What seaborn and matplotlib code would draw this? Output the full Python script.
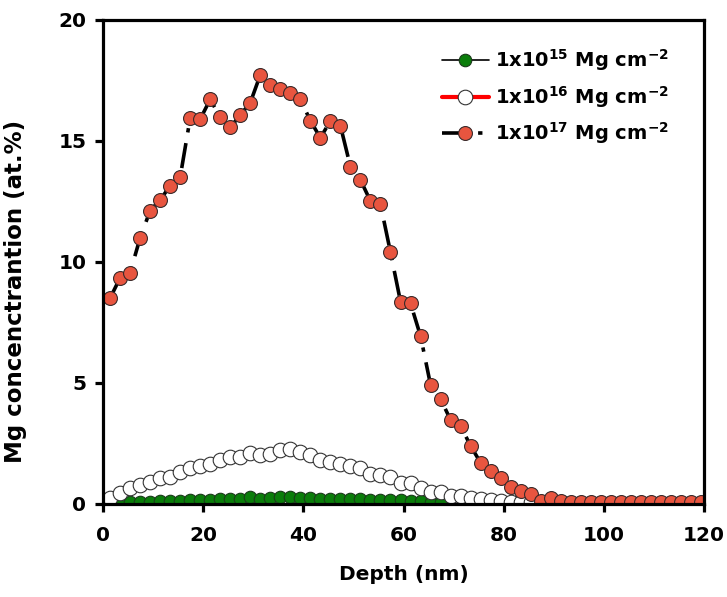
import matplotlib
matplotlib.use('Agg')
import matplotlib.pyplot as plt
import seaborn as sns

# depth (nm) for each measured point
depth = [1.4, 3.4, 5.4, 7.4, 9.4, 11.4, 13.4, 15.4, 17.4, 19.4,
         21.4, 23.4, 25.4, 27.4, 29.4, 31.4, 33.4, 35.4, 37.4, 39.4,
         41.4, 43.4, 45.4, 47.4, 49.4, 51.4, 53.4, 55.4, 57.4, 59.4,
         61.4, 63.4, 65.4, 67.4, 69.4, 71.4, 73.4, 75.4, 77.4, 79.4,
         81.4, 83.4, 85.4, 87.4, 89.4, 91.4, 93.4, 95.4, 97.4, 99.4,
         101.4, 103.4, 105.4, 107.4, 109.4, 111.4, 113.4, 115.4, 117.4, 119.4]

# Mg concentration (at.%) for each fluence
mg_1e17 = [8.5, 9.34, 9.55, 10.99, 12.12, 12.56, 13.15, 13.5, 15.94, 15.9,
           16.72, 15.98, 15.56, 16.07, 16.58, 17.73, 17.31, 17.15, 17.0, 16.72,
           15.84, 15.13, 15.83, 15.63, 13.94, 13.39, 12.52, 12.38, 10.4, 8.36,
           8.29, 6.94, 4.92, 4.34, 3.47, 3.22, 2.4, 1.7, 1.36, 1.07,
           0.71, 0.55, 0.41, 0.14, 0.25, 0.14, 0.1, 0.1, 0.1, 0.1,
           0.1, 0.1, 0.1, 0.1, 0.1, 0.1, 0.1, 0.1, 0.1, 0.1]

mg_1e16 = [0.26, 0.47, 0.65, 0.79, 0.92, 1.06, 1.13, 1.33, 1.5, 1.55,
           1.65, 1.82, 1.93, 1.95, 2.12, 2.02, 2.05, 2.23, 2.28, 2.13,
           2.02, 1.82, 1.73, 1.66, 1.55, 1.5, 1.22, 1.2, 1.1, 0.86,
           0.88, 0.65, 0.49, 0.49, 0.32, 0.32, 0.24, 0.2, 0.17, 0.14,
           0.1, 0.1, 0.1]

mg_1e15 = [0.05, 0.08, 0.1, 0.1, 0.12, 0.12, 0.13, 0.15, 0.16, 0.18,
           0.2, 0.2, 0.22, 0.3, 0.22, 0.25, 0.28, 0.27, 0.25, 0.24,
           0.22, 0.22, 0.22, 0.2, 0.2, 0.18, 0.17, 0.16, 0.15, 0.12,
           0.12, 0.1, 0.08]

labels = [r'1x10$^{15}$ Mg cm$^{-2}$',
          r'1x10$^{16}$ Mg cm$^{-2}$',
          r'1x10$^{17}$ Mg cm$^{-2}$']

sns.set_style('ticks')
plt.rcParams['font.family'] = ['DejaVu Sans']
plt.rcParams['font.weight'] = 'bold'
plt.rcParams['mathtext.default'] = 'bf'
plt.rcParams['text.color'] = 'black'
plt.rcParams['axes.labelcolor'] = 'black'
plt.rcParams['xtick.color'] = 'black'
plt.rcParams['ytick.color'] = 'black'
plt.rcParams['axes.edgecolor'] = 'black'

fig = plt.figure(figsize=(7.27, 5.97), dpi=100)
ax = fig.add_axes([0.1417, 0.1558, 0.8267, 0.8107])

sns.lineplot(x=depth[1:1 + len(mg_1e15)], y=mg_1e15, ax=ax, color='black', lw=1.2,
             marker='o', markersize=9, markerfacecolor='#0a7d0a',
             markeredgecolor='#1a3a1a', markeredgewidth=0.8, label=labels[0])
sns.lineplot(x=depth[:len(mg_1e16)], y=mg_1e16, ax=ax, color='red', lw=3,
             marker='o', markersize=10.5, markerfacecolor='white',
             markeredgecolor='#333333', markeredgewidth=0.8, label=labels[1])
sns.lineplot(x=depth, y=mg_1e17, ax=ax, color='black', lw=2.6,
             dashes=False, marker='o', markersize=10, markerfacecolor='#e8553f',
             markeredgecolor='#3a2a2a', markeredgewidth=0.8, label=labels[2])
ax.lines[-1].set_dashes([7, 3, 1.2, 3])

ax.set_xlim(0, 120)
ax.set_ylim(0, 20)
ax.set_xticks([0, 20, 40, 60, 80, 100, 120])
ax.set_yticks([0, 5, 10, 15, 20])
for s in ax.spines.values():
    s.set_linewidth(2.3)
    s.set_color('black')
ax.tick_params(direction='out', length=6, width=2.3, labelsize=14.5, colors='black')
ax.tick_params(axis='x', pad=10)
ax.tick_params(axis='y', pad=6)
for t in ax.get_xticklabels() + ax.get_yticklabels():
    t.set_fontweight('bold')

ax.set_xlabel('Depth (nm)', fontsize=14.5, fontweight='bold', labelpad=14)
ax.set_ylabel('Mg concenctrantion (at.%)', fontsize=16.5, fontweight='bold')
ax.yaxis.set_label_coords(-0.127, 0.44)

ax.legend(loc='upper left', bbox_to_anchor=(0.535, 0.98), frameon=False,
          handlelength=2.4, labelspacing=0.55, handletextpad=0.3,
          prop={'weight': 'bold', 'size': 14})

plt.savefig('out.png', dpi=100)
